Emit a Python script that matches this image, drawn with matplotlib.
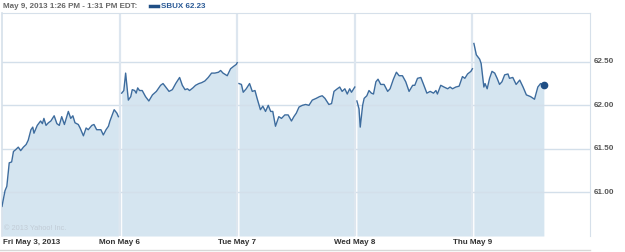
# -*- coding: utf-8 -*-
# SBUX intraday, 5 trading days (Yahoo style chart)

import matplotlib.pyplot as plt

# minutes after 9:30 and price for each session
mins_fri = [0, 10, 16, 24, 32, 38, 45, 54, 62, 71, 80, 87, 96, 102, 106, 117, 128, 134, 139, 146,
            154, 162, 173, 182, 190, 198, 207, 220, 228, 235, 242, 253, 259, 270, 279, 286, 298,
            305, 314, 328, 336, 345, 353, 358, 372, 381, 386]
px_fri = [60.84, 61.02, 61.07, 61.34, 61.35, 61.47, 61.49, 61.52, 61.48, 61.52, 61.55, 61.60,
          61.72, 61.75, 61.68, 61.77, 61.82, 61.79, 61.85, 61.77, 61.80, 61.82, 61.88, 61.79,
          61.77, 61.87, 61.78, 61.93, 61.85, 61.88, 61.80, 61.78, 61.74, 61.65, 61.74, 61.72,
          61.77, 61.78, 61.72, 61.72, 61.66, 61.72, 61.76, 61.82, 61.95, 61.91, 61.87]

mins_mon = [7, 14, 20, 29, 37, 42, 50, 55, 60, 66, 75, 86, 97, 109, 122, 136, 144, 153, 164, 175,
            186, 199, 208, 217, 225, 232, 243, 252, 263, 272, 283, 294, 305, 316, 328, 335, 343,
            357, 368, 379, 387, 390]
px_mon = [62.14, 62.17, 62.37, 62.06, 62.10, 62.18, 62.17, 62.14, 62.20, 62.17, 62.17, 62.10,
          62.05, 62.12, 62.16, 62.23, 62.25, 62.21, 62.16, 62.18, 62.25, 62.32, 62.23, 62.18,
          62.19, 62.17, 62.20, 62.23, 62.25, 62.26, 62.28, 62.32, 62.37, 62.37, 62.38, 62.40,
          62.37, 62.34, 62.42, 62.45, 62.47, 62.49]

mins_tue = [6, 14, 20, 30, 41, 50, 59, 66, 77, 85, 94, 103, 111, 118, 127, 138, 147, 158, 169, 180,
            188, 196, 205, 216, 227, 238, 249, 262, 273, 282, 291, 304, 313, 321, 332, 340, 348,
            357, 365, 373, 379, 390]
px_tue = [62.25, 62.24, 62.15, 62.19, 62.25, 62.16, 62.17, 62.08, 61.95, 61.99, 61.93, 62.00,
          61.93, 61.93, 61.76, 61.87, 61.85, 61.89, 61.89, 61.82, 61.87, 61.91, 61.98, 62.00,
          62.01, 62.00, 62.06, 62.08, 62.10, 62.11, 62.08, 62.01, 62.02, 62.16, 62.19, 62.21,
          62.16, 62.19, 62.13, 62.19, 62.15, 62.21]

mins_wed = [7, 14, 18, 26, 31, 40, 47, 55, 62, 70, 77, 86, 97, 109, 117, 128, 138, 147, 158, 169,
            180, 192, 199, 208, 219, 228, 239, 250, 261, 269, 274, 285, 296, 308, 316, 324, 335,
            346, 357, 365, 374, 385, 390]
px_wed = [62.05, 61.96, 61.75, 62.00, 62.08, 62.11, 62.17, 62.14, 62.13, 62.27, 62.30, 62.24,
          62.24, 62.16, 62.19, 62.30, 62.38, 62.34, 62.34, 62.27, 62.16, 62.23, 62.23, 62.31,
          62.32, 62.24, 62.14, 62.16, 62.14, 62.17, 62.13, 62.23, 62.21, 62.19, 62.21, 62.19,
          62.21, 62.22, 62.33, 62.31, 62.36, 62.39, 62.42]

mins_thu = [5, 13, 24, 29, 38, 42, 49, 57, 65, 74, 82, 90, 98, 107, 118, 123, 134, 145, 157, 168,
            179, 193, 206, 217, 226, 237]
px_thu = [62.71, 62.58, 62.53, 62.48, 62.21, 62.25, 62.19, 62.31, 62.39, 62.37, 62.31, 62.24,
          62.27, 62.35, 62.36, 62.31, 62.32, 62.24, 62.29, 62.21, 62.12, 62.10, 62.07, 62.21,
          62.25, 62.23]

days = ["Fri May 3, 2013", "Mon May 6", "Tue May 7", "Wed May 8", "Thu May 9"]
yticks = [61.0, 61.5, 62.0, 62.5]
session = 390.0

line_c = '#3d6c9e'
fill_c = '#d5e5f0'
grid_c = '#d3dfea'
fnt = 'Liberation Sans'
fs = 5.8

fig = plt.figure(figsize=(6.25, 2.52), dpi=100)
fig.patch.set_facecolor('white')
ax = fig.add_axes([2 / 625, 1 - 236 / 252, 588 / 625, 223 / 252])

ymin, ymax = 60.5, 63.06
sessions = [(mins_fri, px_fri), (mins_mon, px_mon), (mins_tue, px_tue),
            (mins_wed, px_wed), (mins_thu, px_thu)]
for i, (m, p) in enumerate(sessions):
    xs = [i + v / session for v in m]
    ax.fill_between(xs, p, ymin, color=fill_c, lw=0, zorder=1)
    ax.plot(xs, p, color=line_c, lw=1.0, zorder=3)

last_x = 4 + mins_thu[-1] / session
ax.plot([last_x], [px_thu[-1]], 'o', color='#1f4e85', ms=4.5, zorder=4)

for v in yticks:
    ax.axhline(v, color=grid_c, lw=1.0, zorder=2)
for i in range(1, 5):
    ax.axvline(i, color='#dde6ef', lw=1.6, zorder=2)

ax.set_xlim(0, 5)
ax.set_ylim(ymin, ymax)
ax.set_xticks([])
ax.set_yticks([])
for s in ['top', 'right', 'left']:
    ax.spines[s].set_color('#d6e0ea')
ax.spines['bottom'].set_visible(False)
ax.spines['left'].set_linewidth(1.2)

# right side price labels
for v in yticks:
    ax.text(1.006, (v - ymin) / (ymax - ymin), '%.2f' % v, transform=ax.transAxes,
            fontsize=fs, family=fnt, fontweight='bold', color='#555555', va='center', ha='left')

# day labels
for i, d in enumerate(days):
    if i == 0:
        fig.text(3 / 625, 1 - 243 / 252, d, fontsize=fs, family=fnt, fontweight='bold',
                 color='#333333', ha='left', va='center')
    else:
        xd = ax.transData.transform((i, 0))[0] / fig.bbox.width
        fig.text(xd, 1 - 243 / 252, d, fontsize=fs, family=fnt, fontweight='bold',
                 color='#333333', ha='center', va='center')

fig.add_artist(plt.Line2D([0, 590 / 625], [1 - 249.5 / 252] * 2, color='#d8d8d8', lw=1))

# header
fig.text(3 / 625, 1 - 6 / 252, 'May 9, 2013 1:26 PM - 1:31 PM EDT:', fontsize=fs, family=fnt,
         fontweight='bold', color='#666666', ha='left', va='center')
fig.add_artist(plt.Line2D([150 / 625, 158 / 625], [1 - 6 / 252] * 2, color='#1f4e85', lw=2.5))
fig.text(161 / 625, 1 - 6 / 252, 'SBUX 62.23', fontsize=fs, family=fnt, fontweight='bold',
         color='#2a5a96', ha='left', va='center')

fig.text(4 / 625, 1 - 229 / 252, u'© 2013 Yahoo! Inc.', fontsize=5.3, family=fnt,
         color='#c2ccd6', ha='left', va='center')

plt.savefig('out.png', dpi=100, facecolor='white')
plt.close(fig)
